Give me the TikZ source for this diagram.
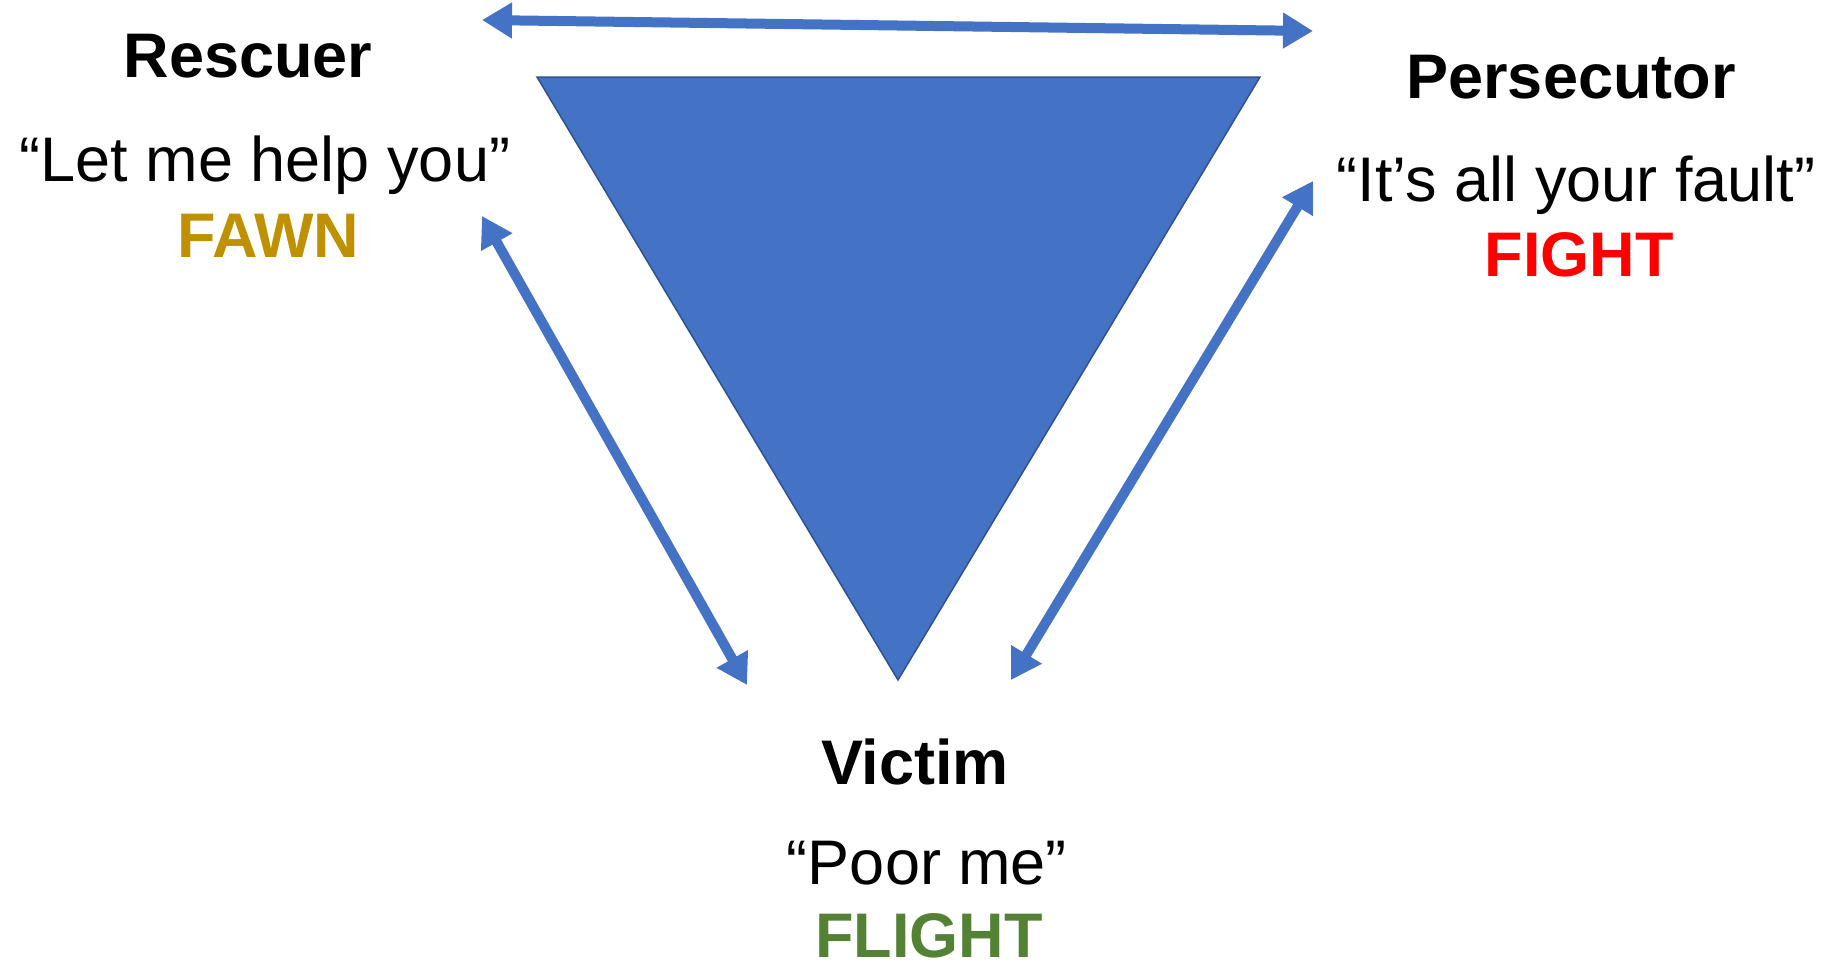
\documentclass[tikz,border=0pt]{standalone}
\usepackage{fontspec}
\setmainfont{Liberation Sans}
\usetikzlibrary{arrows.meta}
\definecolor{triblue}{HTML}{4472C4}
\definecolor{triedge}{HTML}{2F528F}
\definecolor{fawn}{HTML}{BF9000}
\definecolor{fight}{HTML}{FF0000}
\definecolor{flight}{HTML}{548235}
\tikzset{
  lbl/.style={anchor=base, inner sep=0pt, font=\fontsize{63}{70}\selectfont},
  role/.style={lbl, font=\fontsize{63}{70}\selectfont\bfseries},
  linkhead/.tip={Triangle[length=30pt,width=34pt]},
  link/.style={draw=triblue, line width=10pt, linkhead-linkhead},
}
\begin{document}
\begin{tikzpicture}[x=1pt,y=-1pt]
\useasboundingbox (0,0) rectangle (1829,967);
% triangle
\coordinate (tA) at (537,77);
\coordinate (tB) at (1260,77);
\coordinate (tC) at (898,680);
\fill[triblue, draw=triedge, line width=1.5pt, line join=miter] (tA) -- (tB) -- (tC) -- cycle;
% texts
\node[role] (rescuer) at (248,77) {Rescuer};
\node[lbl] (rq) at (265,181) {“Let me help you”};
\node[role, text=fawn] (fawn) at (268,257) {FAWN};
\node[role] (persecutor) at (1571,98) {Persecutor};
\node[lbl] (pq) at (1576,201) {“It’s all your fault”};
\node[role, text=fight] (fight) at (1579,276) {FIGHT};
\node[role] (victim) at (915,784) {Victim};
\node[lbl] (vq) at (927,884) {“Poor me”};
\node[role, text=flight] (flightn) at (929,957) {FLIGHT};
% arrow ends
\coordinate (a1) at (482,20);
\coordinate (a2) at (1313,31);
\coordinate (b1) at (482,216);
\coordinate (b2) at (747,685);
\coordinate (c1) at (1313,181);
\coordinate (c2) at (1011,680);
\draw[link] (a1) -- (a2);
\draw[link] (b1) -- (b2);
\draw[link] (c1) -- (c2);
\end{tikzpicture}
\end{document}
